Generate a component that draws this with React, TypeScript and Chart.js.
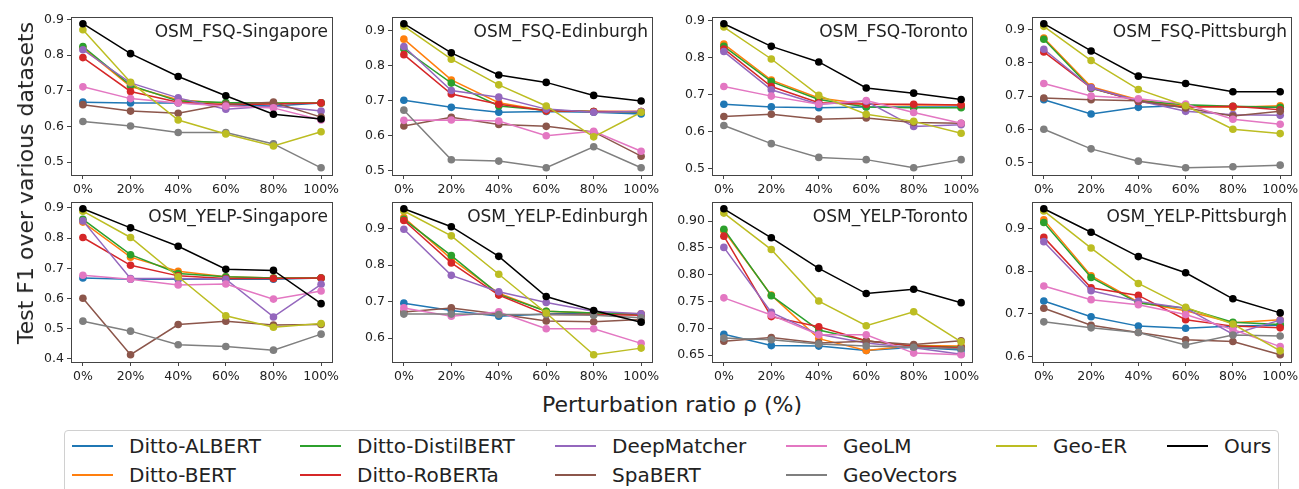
import React, { useEffect, useRef } from "react";
import { Chart, registerables } from "chart.js";

Chart.register(...registerables);

const FONT = '"DejaVu Sans", "Liberation Sans", sans-serif';

const X_LABELS = ["0%", "20%", "40%", "60%", "80%", "100%"];

const SERIES_NAMES = [
  "Ditto-ALBERT",
  "Ditto-BERT",
  "Ditto-DistilBERT",
  "Ditto-RoBERTa",
  "DeepMatcher",
  "SpaBERT",
  "GeoLM",
  "GeoVectors",
  "Geo-ER",
  "Ours",
];

const SERIES_COLORS = [
  "#1f77b4",
  "#ff7f0e",
  "#2ca02c",
  "#d62728",
  "#9467bd",
  "#8c564b",
  "#e377c2",
  "#7f7f7f",
  "#bcbd22",
  "#000000",
];

const PANEL_TITLES = [
  "OSM_FSQ-Singapore",
  "OSM_FSQ-Edinburgh",
  "OSM_FSQ-Toronto",
  "OSM_FSQ-Pittsburgh",
  "OSM_YELP-Singapore",
  "OSM_YELP-Edinburgh",
  "OSM_YELP-Toronto",
  "OSM_YELP-Pittsburgh",
];

// series order follows SERIES_NAMES
const FSQ_SINGAPORE = [
  [0.668, 0.666, 0.666, 0.661, 0.657, 0.666],
  [0.82, 0.712, 0.675, 0.664, 0.665, 0.665],
  [0.824, 0.715, 0.671, 0.667, 0.666, 0.666],
  [0.793, 0.698, 0.668, 0.661, 0.663, 0.666],
  [0.815, 0.722, 0.68, 0.648, 0.657, 0.643],
  [0.661, 0.643, 0.637, 0.662, 0.668, 0.626],
  [0.711, 0.678, 0.666, 0.657, 0.652, 0.618],
  [0.614, 0.601, 0.583, 0.583, 0.551, 0.484],
  [0.871, 0.724, 0.618, 0.579, 0.545, 0.585],
  [0.888, 0.804, 0.74, 0.686, 0.634, 0.621],
];

const FSQ_EDINBURGH = [
  [0.701, 0.681, 0.667, 0.669, 0.667, 0.662],
  [0.875, 0.759, 0.694, 0.671, 0.669, 0.669],
  [0.847, 0.75, 0.685, 0.673, 0.669, 0.667],
  [0.831, 0.719, 0.69, 0.671, 0.669, 0.669],
  [0.854, 0.729, 0.71, 0.676, 0.667, 0.669],
  [0.628, 0.653, 0.632, 0.627, 0.611, 0.542],
  [0.644, 0.645, 0.642, 0.6, 0.613, 0.556],
  [0.673, 0.532, 0.528, 0.509, 0.569, 0.509],
  [0.912, 0.818, 0.745, 0.685, 0.597, 0.667],
  [0.919, 0.836, 0.773, 0.752, 0.715, 0.699],
];

const FSQ_TORONTO = [
  [0.674, 0.667, 0.665, 0.667, 0.667, 0.667],
  [0.836, 0.739, 0.691, 0.674, 0.672, 0.672],
  [0.83, 0.735, 0.687, 0.667, 0.665, 0.665],
  [0.823, 0.722, 0.678, 0.674, 0.674, 0.672],
  [0.816, 0.713, 0.674, 0.682, 0.614, 0.619],
  [0.641, 0.647, 0.634, 0.637, 0.625, 0.623],
  [0.722, 0.696, 0.674, 0.684, 0.652, 0.623],
  [0.617, 0.568, 0.531, 0.525, 0.503, 0.525],
  [0.882, 0.796, 0.698, 0.647, 0.628, 0.596],
  [0.891, 0.83, 0.788, 0.718, 0.704, 0.687],
];

const FSQ_PITTSBURGH = [
  [0.689, 0.646, 0.666, 0.672, 0.666, 0.666],
  [0.875, 0.728, 0.689, 0.669, 0.666, 0.671],
  [0.871, 0.723, 0.686, 0.674, 0.669, 0.666],
  [0.833, 0.725, 0.684, 0.666, 0.669, 0.659],
  [0.841, 0.725, 0.686, 0.654, 0.644, 0.642],
  [0.694, 0.689, 0.686, 0.664, 0.64, 0.654],
  [0.738, 0.7, 0.692, 0.676, 0.63, 0.615],
  [0.6, 0.541, 0.504, 0.484, 0.487, 0.492],
  [0.91, 0.807, 0.72, 0.671, 0.6, 0.587],
  [0.918, 0.836, 0.76, 0.738, 0.713, 0.713],
];

const YELP_SINGAPORE = [
  [0.668, 0.664, 0.664, 0.664, 0.664, 0.668],
  [0.853, 0.737, 0.69, 0.672, 0.668, 0.668],
  [0.862, 0.745, 0.683, 0.672, 0.668, 0.668],
  [0.802, 0.71, 0.675, 0.666, 0.666, 0.668],
  [0.857, 0.666, 0.666, 0.664, 0.539, 0.647],
  [0.601, 0.414, 0.514, 0.525, 0.512, 0.514],
  [0.677, 0.664, 0.645, 0.648, 0.598, 0.625],
  [0.525, 0.492, 0.447, 0.441, 0.429, 0.482],
  [0.889, 0.802, 0.672, 0.543, 0.505, 0.517],
  [0.897, 0.834, 0.773, 0.697, 0.693, 0.583],
];

const YELP_EDINBURGH = [
  [0.696, 0.676, 0.66, 0.666, 0.669, 0.665],
  [0.93, 0.817, 0.723, 0.674, 0.669, 0.667],
  [0.925, 0.826, 0.72, 0.674, 0.669, 0.665],
  [0.922, 0.806, 0.718, 0.665, 0.665, 0.663],
  [0.898, 0.772, 0.727, 0.698, 0.674, 0.667],
  [0.672, 0.683, 0.666, 0.647, 0.645, 0.651],
  [0.683, 0.66, 0.672, 0.626, 0.626, 0.586],
  [0.666, 0.666, 0.665, 0.665, 0.663, 0.656],
  [0.948, 0.88, 0.775, 0.669, 0.555, 0.573],
  [0.954, 0.905, 0.824, 0.714, 0.676, 0.644],
];

const YELP_TORONTO = [
  [0.689, 0.668, 0.667, 0.659, 0.665, 0.66],
  [0.882, 0.762, 0.681, 0.659, 0.668, 0.667],
  [0.885, 0.761, 0.697, 0.677, 0.667, 0.665],
  [0.872, 0.722, 0.703, 0.677, 0.667, 0.664],
  [0.851, 0.73, 0.689, 0.673, 0.664, 0.652],
  [0.676, 0.683, 0.673, 0.676, 0.67, 0.677],
  [0.757, 0.725, 0.688, 0.688, 0.654, 0.651],
  [0.682, 0.679, 0.671, 0.667, 0.665, 0.662],
  [0.915, 0.847, 0.751, 0.705, 0.731, 0.675],
  [0.923, 0.869, 0.812, 0.765, 0.773, 0.748],
];

const YELP_PITTSBURGH = [
  [0.73, 0.693, 0.671, 0.666, 0.671, 0.673],
  [0.92, 0.789, 0.727, 0.707, 0.679, 0.686],
  [0.914, 0.785, 0.725, 0.713, 0.68, 0.675],
  [0.879, 0.761, 0.743, 0.686, 0.671, 0.667],
  [0.869, 0.754, 0.729, 0.713, 0.652, 0.685],
  [0.713, 0.673, 0.656, 0.639, 0.635, 0.604],
  [0.765, 0.733, 0.721, 0.698, 0.663, 0.623],
  [0.681, 0.667, 0.656, 0.627, 0.65, 0.648],
  [0.941, 0.854, 0.771, 0.715, 0.676, 0.613],
  [0.946, 0.891, 0.834, 0.796, 0.735, 0.702],
];

const PANEL_DATA = [
  FSQ_SINGAPORE,
  FSQ_EDINBURGH,
  FSQ_TORONTO,
  FSQ_PITTSBURGH,
  YELP_SINGAPORE,
  YELP_EDINBURGH,
  YELP_TORONTO,
  YELP_PITTSBURGH,
];

const PANEL_Y_TICKS = [
  [0.5, 0.6, 0.7, 0.8, 0.9],
  [0.5, 0.6, 0.7, 0.8, 0.9],
  [0.5, 0.6, 0.7, 0.8, 0.9],
  [0.5, 0.6, 0.7, 0.8, 0.9],
  [0.4, 0.5, 0.6, 0.7, 0.8, 0.9],
  [0.6, 0.7, 0.8, 0.9],
  [0.65, 0.7, 0.75, 0.8, 0.85, 0.9],
  [0.6, 0.7, 0.8, 0.9],
];

const PANEL_Y_DECIMALS = [1, 1, 1, 1, 1, 1, 2, 1];

const Y_TITLE = "Test F1 over various datasets";
const X_TITLE = "Perturbation ratio ρ (%)";

// layout (pixels)
const COL_LEFT = [71, 392, 712, 1032];
const COL_RIGHT = [333, 653, 973, 1292];
const ROW_TOP = [14, 199];
const ROW_BOTTOM = [175, 362];
const PAD_L = 50;
const PAD_T = 8;
const PAD_R = 18;
const PAD_B = 26;

const LEGEND_COL_X = [72, 300, 555, 786, 996, 1167];
const LEGEND_ROW_Y = [446, 475];

type PanelProps = { idx: number };

function Panel({ idx }: PanelProps) {
  const ref = useRef<HTMLCanvasElement | null>(null);
  const col = idx % 4;
  const row = Math.floor(idx / 4);
  const plotW = COL_RIGHT[col] - COL_LEFT[col];
  const plotH = ROW_BOTTOM[row] - ROW_TOP[row];
  const width = plotW + PAD_L + PAD_R;
  const height = plotH + PAD_T + PAD_B;
  const left = COL_LEFT[col] - PAD_L;
  const top = ROW_TOP[row] - PAD_T;

  useEffect(() => {
    const canvas = ref.current;
    if (!canvas) return;
    const data = PANEL_DATA[idx];
    const all = data.flat();
    const lo = Math.min(...all);
    const hi = Math.max(...all);
    const m = (hi - lo) * 0.05;
    const yTicks = PANEL_Y_TICKS[idx];
    const dec = PANEL_Y_DECIMALS[idx];
    const tickFont = { family: FONT, size: 12.5 };

    const framePlugin = {
      id: "frame" + idx,
      afterDatasetsDraw(chart: any) {
        const { ctx, chartArea: a } = chart;
        ctx.save();
        ctx.strokeStyle = "#444";
        ctx.lineWidth = 1;
        ctx.strokeRect(
          Math.round(a.left) + 0.5,
          Math.round(a.top) + 0.5,
          Math.round(a.right - a.left) - 1,
          Math.round(a.bottom - a.top) - 1
        );
        ctx.fillStyle = "#222";
        ctx.font = `17px ${FONT}`;
        ctx.textAlign = "right";
        ctx.textBaseline = "alphabetic";
        ctx.fillText(PANEL_TITLES[idx], a.right - 5, a.top + 20.5);
        ctx.restore();
      },
    };

    const chart = new Chart(canvas, {
      type: "line",
      data: {
        datasets: data.map((vals, s) => ({
          label: SERIES_NAMES[s],
          data: vals.map((v, i) => ({ x: i, y: v })),
          borderColor: SERIES_COLORS[s],
          backgroundColor: SERIES_COLORS[s],
          pointBackgroundColor: SERIES_COLORS[s],
          pointBorderColor: SERIES_COLORS[s],
          pointRadius: 3.8,
          pointBorderWidth: 0,
          borderWidth: 1.5,
          fill: false,
          tension: 0,
          order: data.length - s,
        })),
      },
      options: {
        animation: false,
        responsive: false,
        devicePixelRatio: 1,
        layout: { padding: { left: 0, top: PAD_T, right: PAD_R, bottom: 0 } },
        plugins: { legend: { display: false }, tooltip: { enabled: false } },
        scales: {
          x: {
            type: "linear",
            min: -0.25,
            max: 5.25,
            afterBuildTicks: (s: any) => {
              s.ticks = X_LABELS.map((_, i) => ({ value: i }));
            },
            afterFit: (s: any) => {
              s.height = PAD_B;
            },
            ticks: {
              callback: (v: any) => X_LABELS[Math.round(v)] ?? "",
              font: tickFont,
              color: "#222",
              padding: 3,
              maxRotation: 0,
              autoSkip: false,
            },
            grid: {
              display: true,
              drawOnChartArea: false,
              drawTicks: true,
              tickLength: 4,
              color: "#444",
            },
            border: { display: false },
          },
          y: {
            type: "linear",
            min: lo - m,
            max: hi + m,
            afterBuildTicks: (s: any) => {
              s.ticks = yTicks.map((v) => ({ value: v }));
            },
            afterFit: (s: any) => {
              s.width = PAD_L;
            },
            ticks: {
              callback: (v: any) => Number(v).toFixed(dec),
              font: tickFont,
              color: "#222",
              padding: 3,
              autoSkip: false,
            },
            grid: {
              display: true,
              drawOnChartArea: false,
              drawTicks: true,
              tickLength: 4,
              color: "#444",
            },
            border: { display: false },
          },
        },
      },
      plugins: [framePlugin],
    } as any);
    return () => chart.destroy();
  }, [idx]);

  return (
    <canvas
      ref={ref}
      width={width}
      height={height}
      style={{ position: "absolute", left, top, width, height }}
    />
  );
}

export default function App() {
  const legendItems = SERIES_NAMES.map((name, s) => {
    const c = Math.floor(s / 2);
    const r = s % 2;
    return { name, color: SERIES_COLORS[s], c, r };
  });
  // Geo-ER and Ours occupy columns 5 and 6 in the first row
  legendItems[8].c = 4;
  legendItems[8].r = 0;
  legendItems[9].c = 5;
  legendItems[9].r = 0;

  return (
    <div
      style={{
        position: "absolute",
        left: 0,
        top: 0,
        width: 1299,
        height: 489,
        overflow: "hidden",
        background: "#ffffff",
        fontFamily: FONT,
        color: "#222",
      }}
    >
      {PANEL_TITLES.map((_, i) => (
        <Panel key={i} idx={i} />
      ))}
      <div
        style={{
          position: "absolute",
          left: 26,
          top: 183,
          transform: "translate(-50%, -50%) rotate(-90deg)",
          whiteSpace: "nowrap",
          fontSize: 22,
          lineHeight: 1,
        }}
      >
        {Y_TITLE}
      </div>
      <div
        style={{
          position: "absolute",
          left: 672,
          top: 405,
          transform: "translate(-50%, -50%)",
          whiteSpace: "nowrap",
          fontSize: 22,
          lineHeight: 1,
        }}
      >
        {X_TITLE}
      </div>
      <div
        style={{
          position: "absolute",
          left: 64,
          top: 430,
          width: 1215,
          height: 70,
          border: "1px solid #d0d0d0",
          borderRadius: 4,
          background: "#fff",
          boxSizing: "border-box",
        }}
      />
      {legendItems.map((it) => (
        <React.Fragment key={it.name}>
          <div
            style={{
              position: "absolute",
              left: LEGEND_COL_X[it.c],
              top: LEGEND_ROW_Y[it.r] - 1,
              width: 41,
              height: 2,
              background: it.color,
            }}
          />
          <div
            style={{
              position: "absolute",
              left: LEGEND_COL_X[it.c] + 57,
              top: LEGEND_ROW_Y[it.r],
              transform: "translateY(-50%)",
              whiteSpace: "nowrap",
              fontSize: 20,
              lineHeight: 1,
            }}
          >
            {it.name}
          </div>
        </React.Fragment>
      ))}
    </div>
  );
}
